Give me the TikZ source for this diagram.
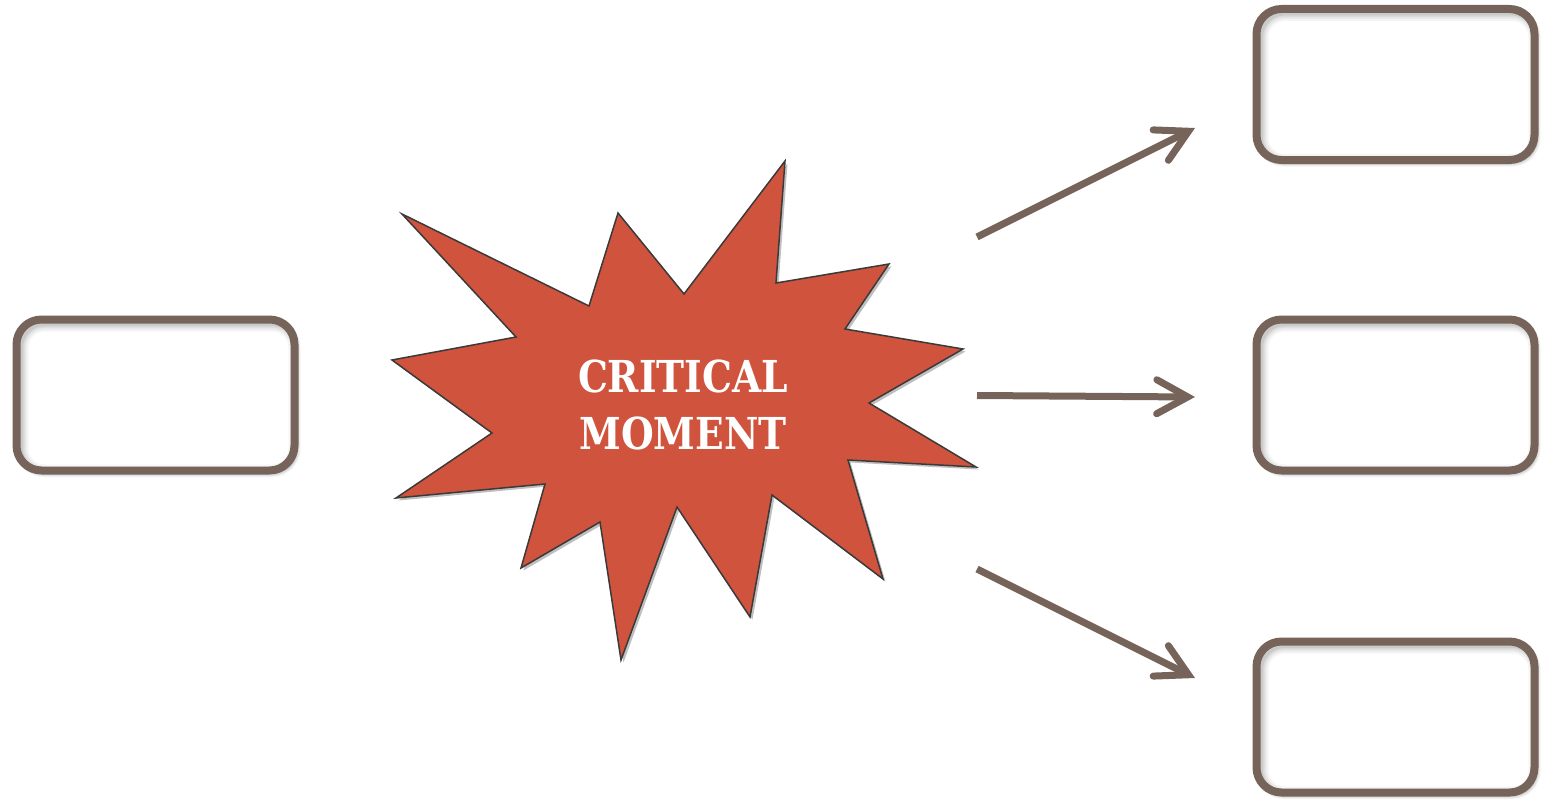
\documentclass[tikz,border=0pt]{standalone}
\usepackage{fontspec}
\setmainfont{Liberation Serif}
\newfontfamily\titlefont{DejaVu Serif Condensed}
\usetikzlibrary{arrows.meta,shadows.blur}
\definecolor{frame}{HTML}{76645A}
\definecolor{burst}{HTML}{D0533D}
\definecolor{burstline}{HTML}{3A3A3A}
\tikzset{
  panel/.style={draw=frame, line width=8pt, fill=white, rounded corners=25pt,
    minimum width=278pt, minimum height=151pt, inner sep=0pt,
    blur shadow={shadow xshift=2.5pt, shadow yshift=-3pt, shadow blur steps=6,
      shadow blur radius=4pt, shadow opacity=45},
    path picture={
      \foreach \w/\o in {18/0.04, 14/0.05, 10/0.06, 7/0.07}{
        \draw[black, opacity=\o, line width=\w pt, rounded corners=25pt]
          ([shift={(3pt,-3pt)}]path picture bounding box.north west) rectangle
          ([shift={(3pt,-3pt)}]path picture bounding box.south east);
      }
    }},
  flow/.style={draw=frame, line width=7pt,
    -{Straight Barb[length=31pt, width=34pt, line cap=round, line join=miter]}},
  titletext/.style={text=white, font=\titlefont\bfseries\fontsize{44}{57}\selectfont,
    align=center, xscale=0.95, transform shape, inner sep=0pt}
}
\begin{document}
\begin{tikzpicture}[x=1pt, y=-1pt]
\useasboundingbox (0,0) rectangle (1548,800);

% boxes
\node[panel] (start) at (155.5,395) {};
\node[panel] (outA) at (1395.5,84.5) {};
\node[panel] (outB) at (1395.5,395) {};
\node[panel] (outC) at (1395.5,717) {};

% burst shadow and burst
\begin{scope}[shift={(2.5pt,-2.5pt)}]
\fill[black, opacity=0.25]
  (402,214) -- (589,306) -- (618,213) -- (684,294) -- (785,161) -- (776,283)
  -- (889,264) -- (845,329) -- (963,349) -- (869,403) -- (976,467) -- (848,460)
  -- (883,579) -- (772,495) -- (750,617) -- (677,507) -- (621,660) -- (600,522)
  -- (521,568) -- (545,484) -- (396,498) -- (492,433) -- (392,360) -- (516,337)
  -- cycle;
\end{scope}
\filldraw[fill=burst, draw=burstline, line width=1.5pt, line join=miter]
  (402,214) -- (589,306) -- (618,213) -- (684,294) -- (785,161) -- (776,283)
  -- (889,264) -- (845,329) -- (963,349) -- (869,403) -- (976,467) -- (848,460)
  -- (883,579) -- (772,495) -- (750,617) -- (677,507) -- (621,660) -- (600,522)
  -- (521,568) -- (545,484) -- (396,498) -- (492,433) -- (392,360) -- (516,337)
  -- cycle;
\node[titletext] (title) at (683,405) {CRITICAL\\MOMENT};

% arrow ends
\coordinate (a1s) at (977,237);
\coordinate (a1e) at (1195,128);
\coordinate (a2s) at (977,395.5);
\coordinate (a2e) at (1195,397);
\coordinate (a3s) at (977,569);
\coordinate (a3e) at (1195,678);
\draw[flow] (a1s) -- (a1e);
\draw[flow] (a2s) -- (a2e);
\draw[flow] (a3s) -- (a3e);
\end{tikzpicture}
\end{document}
